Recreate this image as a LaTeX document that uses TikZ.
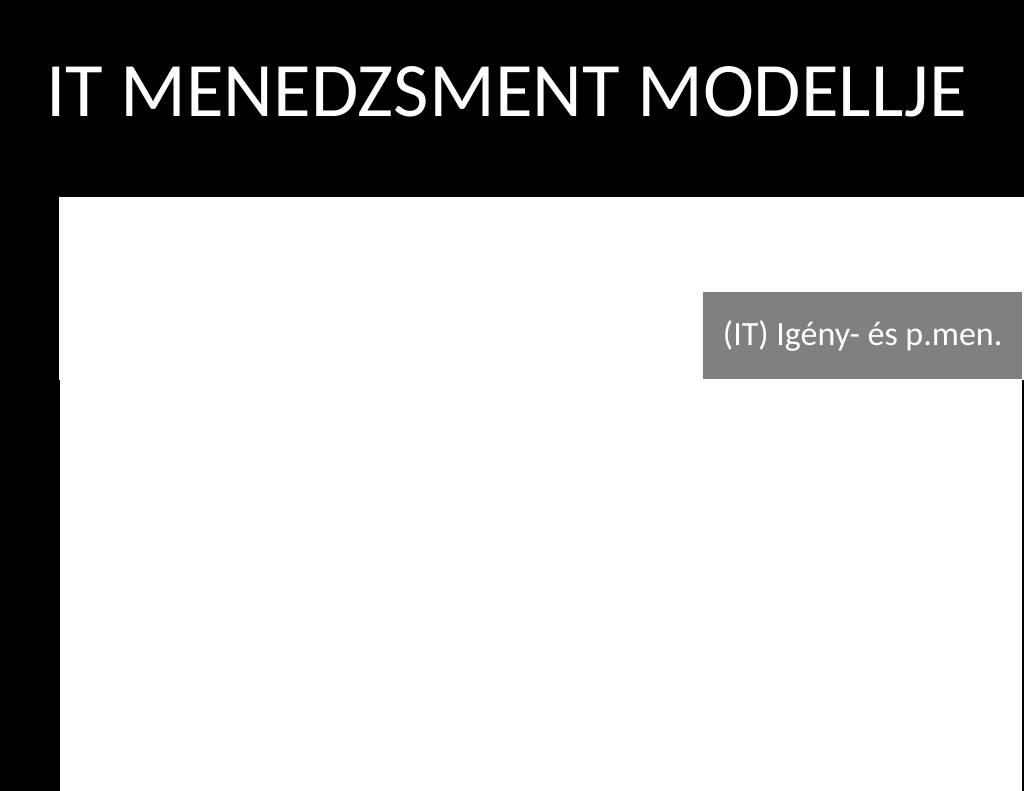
\documentclass[tikz,border=0pt]{standalone}
\usepackage{fontspec}
\setmainfont{Carlito}
\definecolor{boxgray}{HTML}{808080}
\tikzset{
  titletext/.style={text=white, inner sep=0pt, anchor=base west, font=\fontsize{77}{84}\selectfont},
  graybox/.style={fill=boxgray, draw=none, inner sep=0pt},
  boxtext/.style={text=white, inner sep=0pt, font=\fontsize{34}{40}\selectfont}
}
\begin{document}
\begin{tikzpicture}[x=1pt,y=-1pt]
\useasboundingbox (0,0) rectangle (1024,791);
\fill[black] (0,0) rectangle (1024,791);
\fill[white] (59,197) rectangle (1024,380);
\fill[white] (60,380) rectangle (1022,791);
\node[titletext] (title) at (46,117) {IT MENEDZSMENT MODELLJE};
\node[graybox, minimum width=319pt, minimum height=87pt, anchor=north west] (igeny) at (703,292) {};
\node[boxtext] (igenytext) at (igeny.center) {(IT) Igény- és p.men.};
\end{tikzpicture}
\end{document}
